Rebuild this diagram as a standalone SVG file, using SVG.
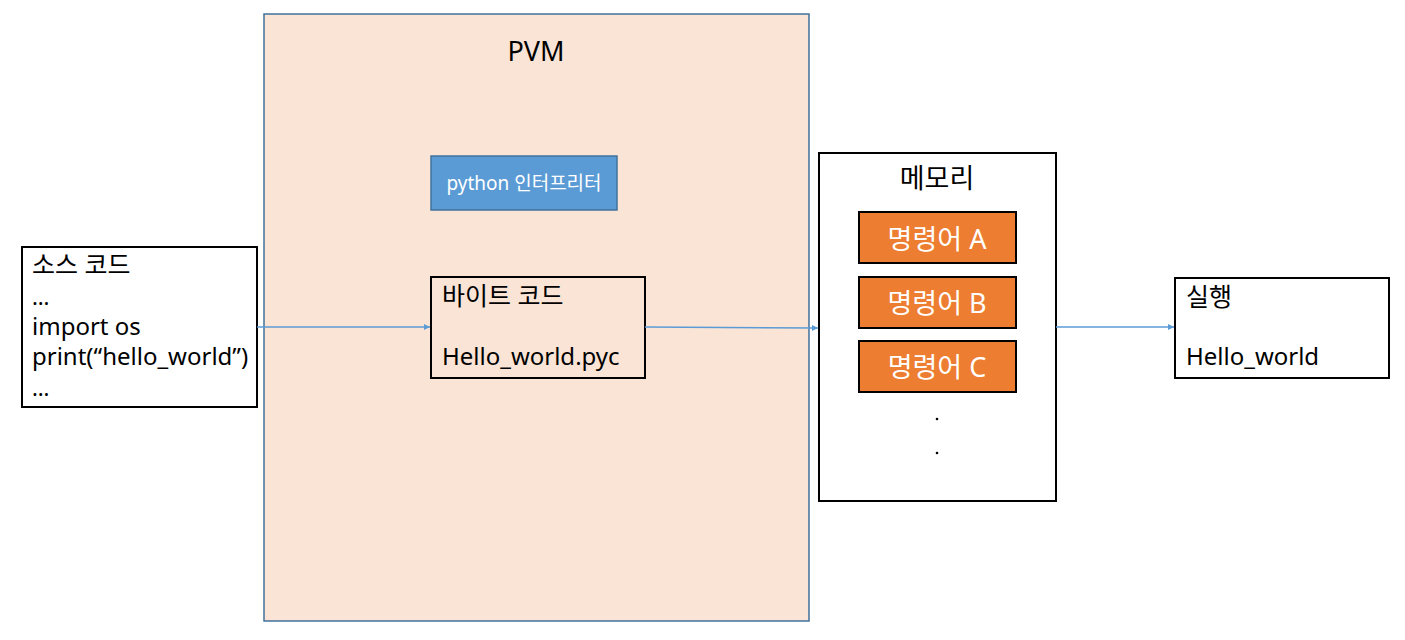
<svg xmlns="http://www.w3.org/2000/svg" width="1405" height="640" viewBox="0 0 1405 640">
<style>
text{font-family:"Noto Sans","Noto Sans CJK KR",sans-serif;fill:#000}
.box{fill:#fff;stroke:#000;stroke-width:2}
.open{fill:none;stroke:#000;stroke-width:2}
.ord{fill:#ED7D31;stroke:#000;stroke-width:2}
.wt{fill:#fff;font-size:27px;text-anchor:middle}
.t{font-size:24px}
.k{font-size:25px}
.conn{stroke:#5B9BD5;stroke-width:1.5;fill:none;marker-end:url(#ah)}
</style>
<defs>
<marker id="ah" viewBox="0 0 10 10" refX="10" refY="5" markerWidth="6" markerHeight="6" orient="auto" markerUnits="userSpaceOnUse"><path d="M0,0 L10,5 L0,10 z" fill="#5B9BD5"/></marker>
</defs>
<rect width="1405" height="640" fill="#fff"/>
<g id="pvm">
<rect x="264" y="14" width="545" height="607" fill="#FAE4D6" stroke="#41719C" stroke-width="1.5"/>
<text x="536" y="61" font-size="27" text-anchor="middle">PVM</text>
</g>
<g id="interpreter">
<rect x="431" y="156" width="186" height="54" fill="#5B9BD5" stroke="#41719C" stroke-width="1.5"/>
<text x="524" y="190" font-size="19" text-anchor="middle" style="fill:#fff">python 인터프리터</text>
</g>
<g id="source">
<rect class="box" x="22" y="247" width="235" height="160"/>
<text class="t"><tspan class="k" x="32" y="274">소스 코드</tspan><tspan x="32" y="305" font-size="22">…</tspan><tspan x="32" y="335">import os</tspan><tspan x="32" y="365">print(“hello_world”)</tspan><tspan x="32" y="396" font-size="22">…</tspan></text>
</g>
<g id="bytecode">
<rect class="open" x="431" y="277" width="214" height="101"/>
<text class="k" x="442" y="305">바이트 코드</text>
<text class="t" x="442" y="365">Hello_world.pyc</text>
</g>
<g id="memory">
<rect class="box" x="819" y="153" width="237" height="348"/>
<text x="937" y="188" font-size="27" text-anchor="middle">메모리</text>
<circle cx="937" cy="419" r="1.3" fill="#000"/>
<circle cx="937" cy="453" r="1.3" fill="#000"/>
</g>
<g id="instrA">
<rect class="ord" x="859" y="212" width="157" height="51"/>
<text class="wt" x="937" y="249">명령어 A</text>
</g>
<g id="instrB">
<rect class="ord" x="859" y="277" width="157" height="51"/>
<text class="wt" x="937" y="313">명령어 B</text>
</g>
<g id="instrC">
<rect class="ord" x="859" y="341" width="157" height="51"/>
<text class="wt" x="937" y="377">명령어 C</text>
</g>
<g id="run">
<rect class="box" x="1175" y="278" width="214" height="100"/>
<text class="k" x="1186" y="306">실행</text>
<text class="t" x="1186" y="365">Hello_world</text>
</g>
<g id="connectors">
<path class="conn" d="M257,327 L430,327"/>
<path class="conn" d="M645,327 L818,328"/>
<path class="conn" d="M1056,327 L1174,327"/>
</g>
</svg>
